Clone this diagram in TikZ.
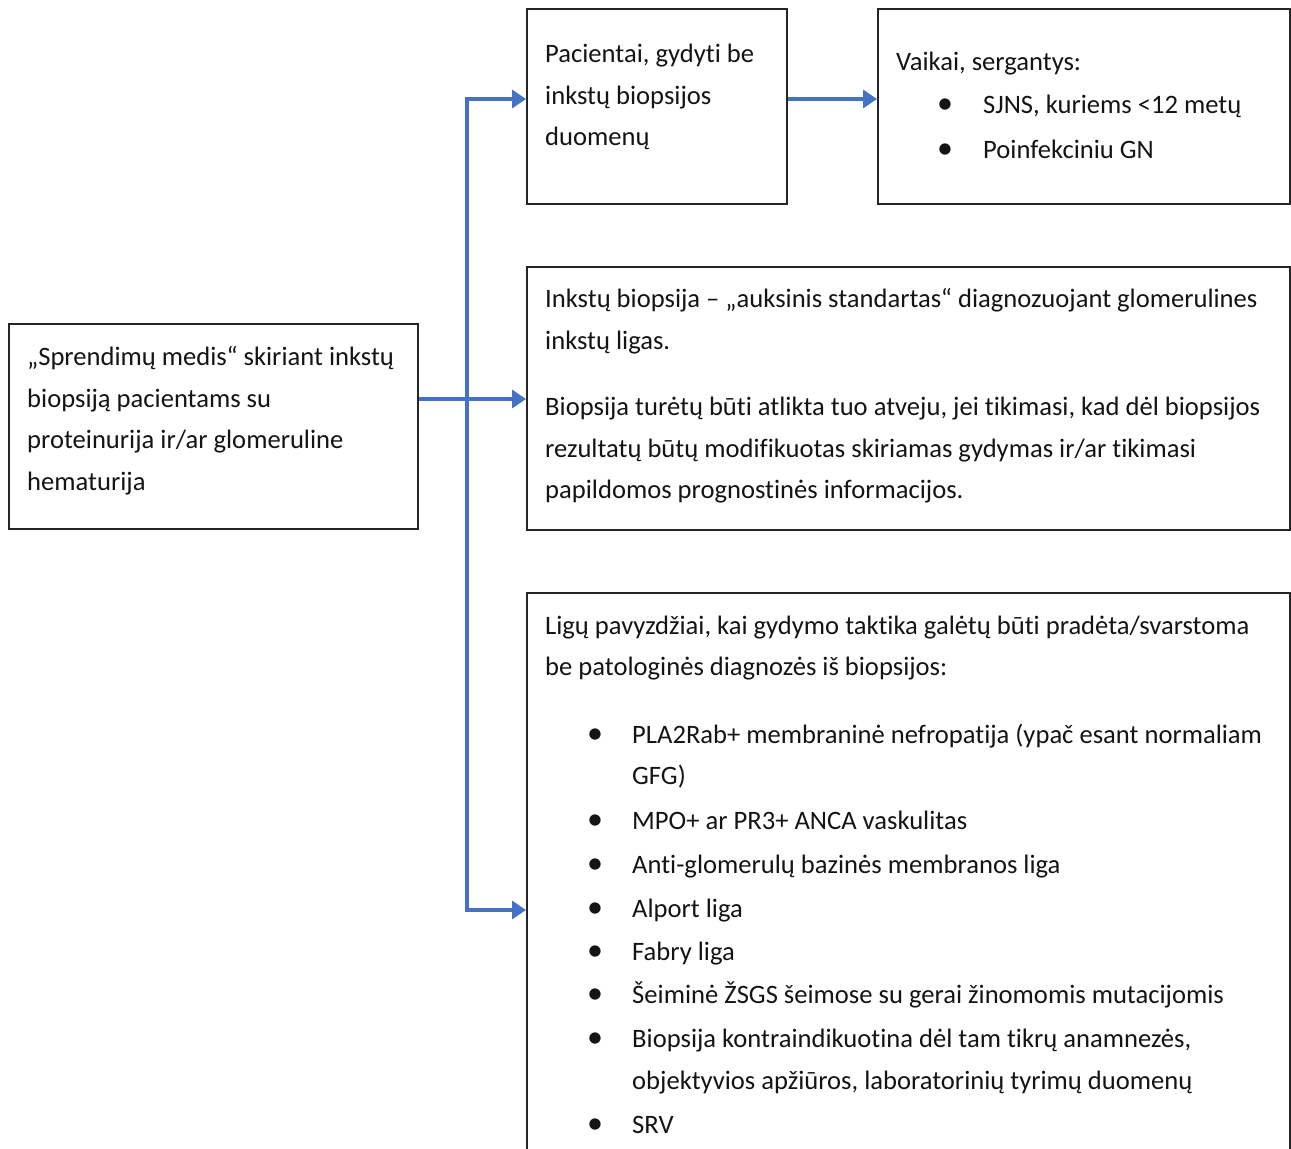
\documentclass[tikz,border=0pt]{standalone}
\usepackage{fontspec}
\setmainfont{Carlito}[Ligatures=NoCommon]
\usetikzlibrary{arrows.meta}
\definecolor{linkblue}{HTML}{4472C4}
\definecolor{ink}{HTML}{141414}

\begin{document}
\begin{tikzpicture}[x=1pt,y=-1pt,
  box/.style={draw=black!85,line width=2pt,inner sep=0pt,anchor=north west},
  txt/.style={anchor=base west,inner sep=0pt,text=ink,font=\fontsize{26.6}{42}\selectfont},
  dot/.style={anchor=base,inner sep=0pt,text=ink,font=\fontsize{32}{32}\selectfont},
  link/.style={linkblue,line width=3.4pt},
  >={Triangle[length=14pt,width=18pt]}]
\clip (0,0) rectangle (1291,1149);
% boxes
\node[box,minimum width=409pt,minimum height=205pt] (root) at (8,323) {};
\node[box,minimum width=260pt,minimum height=195pt] (nobx) at (526,8) {};
\node[box,minimum width=412pt,minimum height=195pt] (kids) at (877,8) {};
\node[box,minimum width=763pt,minimum height=263pt] (gold) at (526,266) {};
\node[box,minimum width=763pt,minimum height=600pt] (ex) at (526,592) {};

% connectors
\coordinate (fork) at (467,399);
\coordinate (up) at (467,99);
\coordinate (down) at (467,910);
\draw[link] (root.east |- fork) -- (fork);
\draw[link,->] (fork) -- (fork -| gold.west);
\draw[link,->] (fork) -- (up) -- (up -| nobx.west);
\draw[link,->] (fork) -- (down) -- (down -| ex.west);
\draw[link,->] (nobx.east |- up) -- (kids.west |- up);

% root text
\foreach \y/\s [count=\i] in {365/{„Sprendimų medis“ skiriant inkstų},
  407/{biopsiją pacientams su},448/{proteinurija ir/ar glomeruline},
  490/{hematurija}}
  \node[txt] (r\i) at (27,\y) {\s};

% no biopsy
\foreach \y/\s [count=\i] in {62/{Pacientai, gydyti be},104/{inkstų biopsijos},
  145/{duomenų}}
  \node[txt] (n\i) at (545,\y) {\s};

% children
\node[txt] (k0) at (896,70) {Vaikai, sergantys:};
\foreach \y/\s [count=\i] in {113/{SJNS, kuriems <12 metų},158/{Poinfekciniu GN}}{
  \node[dot] (kb\i) at (945,\y) {•};
  \node[txt] (k\i) at (983,\y) {\s};
}

% gold standard
\foreach \y/\s [count=\i] in {
  307/{Inkstų biopsija – „auksinis standartas“ diagnozuojant glomerulines},
  349/{inkstų ligas.},
  415/{Biopsija turėtų būti atlikta tuo atveju, jei tikimasi, kad dėl biopsijos},
  457/{rezultatų būtų modifikuotas skiriamas gydymas ir/ar tikimasi},
  498/{papildomos prognostinės informacijos.}}
  \node[txt] (g\i) at (545,\y) {\s};

% examples
\node[txt] (e1) at (545,634) {Ligų pavyzdžiai, kai gydymo taktika galėtų būti pradėta/svarstoma};
\node[txt] (e2) at (545,675) {be patologinės diagnozės iš biopsijos:};
\foreach \y in {743,829,873,917,960,1003,1047,1133}
  \node[dot] at (595,\y) {•};
\foreach \y/\s [count=\i] in {
  743/{PLA2Rab+ membraninė nefropatija (ypač esant normaliam},
  784/{GFG)},
  829/{MPO+ ar PR3+ ANCA vaskulitas},
  873/{Anti-glomerulų bazinės membranos liga},
  917/{Alport liga},
  960/{Fabry liga},
  1003/{Šeiminė ŽSGS šeimose su gerai žinomomis mutacijomis},
  1047/{Biopsija kontraindikuotina dėl tam tikrų anamnezės,},
  1089/{objektyvios apžiūros, laboratorinių tyrimų duomenų},
  1133/{SRV}}
  \node[txt] (d\i) at (632,\y) {\s};
\end{tikzpicture}
\end{document}
